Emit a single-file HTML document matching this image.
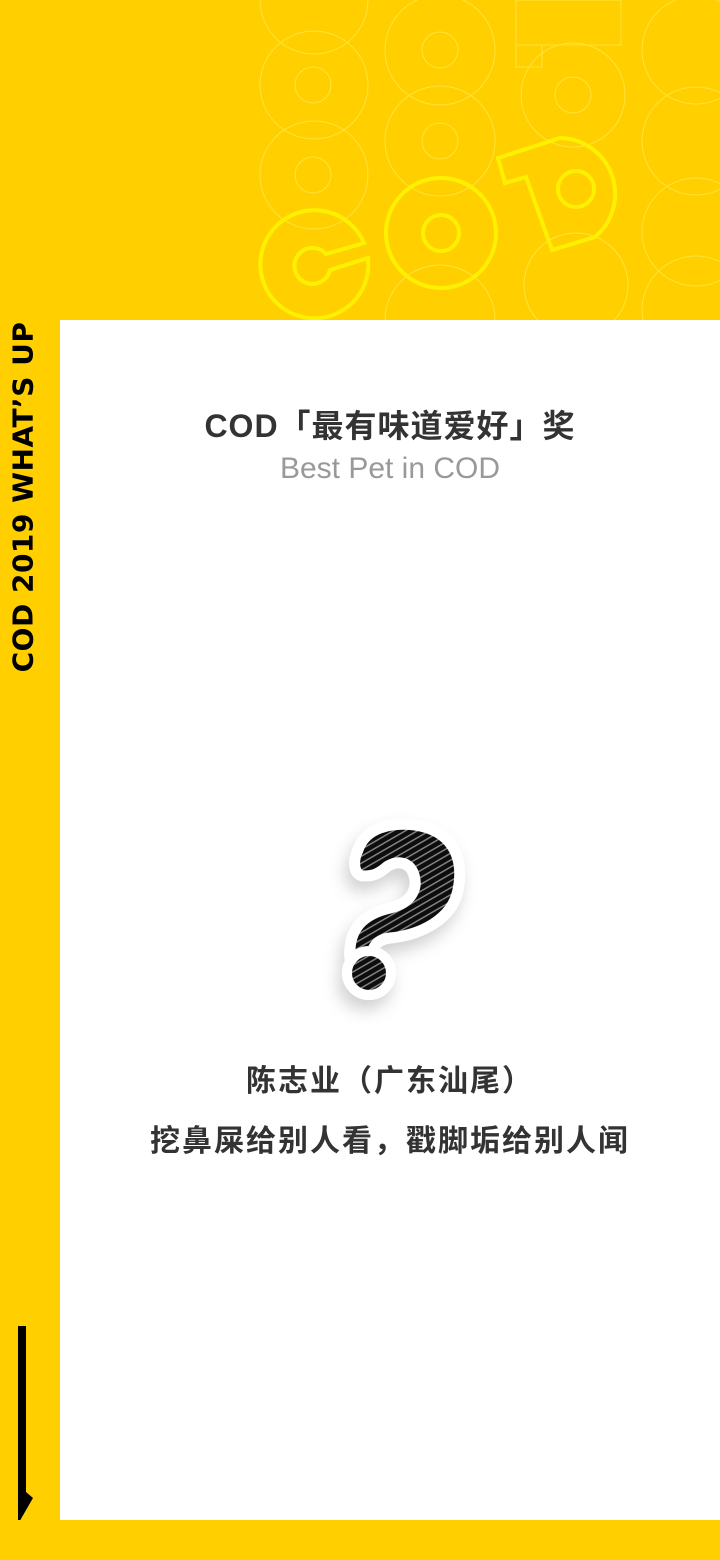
<!DOCTYPE html>
<html><head><meta charset="utf-8">
<style>
html,body{margin:0;padding:0;}
body{width:720px;height:1560px;background:#FFCF00;position:relative;overflow:hidden;font-family:"Liberation Sans","Noto Sans CJK SC",sans-serif;}
#panel{position:absolute;left:60px;top:320px;width:660px;height:1200px;background:#fff;}
.c{position:absolute;left:60px;width:660px;text-align:center;}
#title{top:401px;font-size:32px;font-weight:bold;color:#333;letter-spacing:1px;}
#sub{top:452px;font-size:30px;color:#999;}
#l1{top:1056px;font-size:30px;font-weight:bold;color:#333;letter-spacing:2px;}
#l2{top:1116px;font-size:30px;font-weight:bold;color:#333;letter-spacing:2px;}
#side{position:absolute;left:23px;top:497px;transform:translate(-50%,-50%) rotate(-90deg);white-space:nowrap;font-size:28px;font-weight:900;color:#000;font-family:"DejaVu Sans","Liberation Sans",sans-serif;letter-spacing:0.5px;}
</style></head>
<body>
<svg width="720" height="320" style="position:absolute;left:0;top:0">
 <g fill="none" stroke="#FFE84A" stroke-width="1" opacity="0.8">
  <circle cx="314" cy="0" r="54"/><circle cx="314" cy="85" r="54"/><circle cx="314" cy="175" r="54"/>
  <circle cx="440" cy="50" r="55"/><circle cx="440" cy="50" r="18"/><circle cx="440" cy="141" r="55"/><circle cx="440" cy="141" r="18"/><circle cx="440" cy="320" r="55"/>
  <circle cx="573" cy="95" r="52"/><circle cx="573" cy="95" r="18"/><circle cx="576" cy="285" r="52"/>
  <circle cx="696" cy="50" r="54"/><circle cx="696" cy="141" r="54"/><circle cx="696" cy="232" r="54"/><circle cx="696" cy="310" r="54"/>
  <circle cx="313" cy="85" r="18"/><circle cx="313" cy="175" r="18"/>
  <rect x="516" y="0" width="105" height="45"/><rect x="516" y="45" width="26" height="22"/>
 </g>
 <g fill="none" stroke="#FFF000" stroke-width="4">
  <circle cx="441" cy="233" r="55"/><circle cx="441" cy="233" r="18"/>
  <path d="M364 243 A54 54 0 1 0 368 258 L330 270 A18 18 0 1 1 326 254 Z"/>
  <path d="M498 158 L560 138 A56 56 0 0 1 595 237 L552 250 L526 177 L505 183 Z"/>
  <circle cx="576" cy="189" r="18"/>
 </g>
</svg>
<div id="side">COD 2019 WHAT’S UP</div>
<svg width="40" height="200" style="position:absolute;left:0;top:1320px">
 <rect x="18" y="6" width="8" height="168" fill="#000"/>
 <polygon points="18,172 26,172 33,178 18,204" fill="#000"/>
</svg>
<div id="panel"></div>
<div class="c" id="title">COD「最有味道爱好」奖</div>
<div class="c" id="sub">Best Pet in COD</div>
<svg width="160" height="220" style="position:absolute;left:320px;top:810px">
 <defs>
  <pattern id="st" width="6" height="6" patternUnits="userSpaceOnUse" patternTransform="rotate(-30)">
   <rect width="6" height="6" fill="#111"/><rect width="6" height="1.4" fill="#888"/>
  </pattern>
  <filter id="sh" x="-50%" y="-50%" width="200%" height="200%"><feDropShadow dx="-4" dy="10" stdDeviation="8" flood-color="#000" flood-opacity="0.18"/></filter>
 </defs>
 <g filter="url(#sh)">
  <path d="M38 40 C45 18 70 12 95 15 C130 20 145 45 138 80 C132 110 100 125 70 128 C58 129 52 136 50 150 L30 148 C28 118 44 104 70 98 C92 93 98 78 94 65 C90 52 78 50 68 56 C62 60 58 66 44 66 C34 66 32 52 38 40 Z" fill="url(#st)" stroke="#fff" stroke-width="11" stroke-linejoin="round"/>
  <circle cx="49" cy="163" r="22" fill="url(#st)" stroke="#fff" stroke-width="10"/>
 </g>
</svg>
<div class="c" id="l1">陈志业（广东汕尾）</div>
<div class="c" id="l2">挖鼻屎给别人看，戳脚垢给别人闻</div>
</body></html>
